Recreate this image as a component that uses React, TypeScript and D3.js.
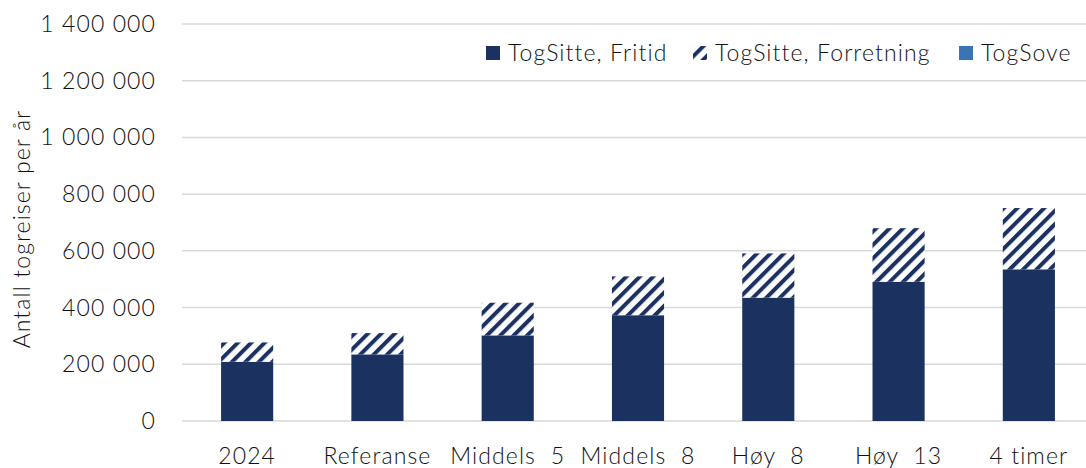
import React, { useEffect, useRef } from 'react'
import * as d3 from 'd3'

const categories = ['2024', 'Referanse', 'Middels  5', 'Middels  8', 'Høy  8', 'Høy  13', '4 timer']
const fritid = [209000, 235000, 302000, 373000, 435000, 491000, 535000]
const forretning = [68000, 75000, 115000, 137000, 156000, 189000, 216000]
const sove = [0, 0, 0, 0, 0, 0, 0]
const seriesNames = ['TogSitte, Fritid', 'TogSitte, Forretning', 'TogSove']
const yTicks = [0, 200000, 400000, 600000, 800000, 1000000, 1200000, 1400000]

const W = 1086
const H = 468
const NAVY = '#1b3160'
const BLUE = '#3a74b4'
const FONT = 'Lato, "Open Sans", sans-serif'
const FS = 23
const LS = 1.1

export default function App() {
  const ref = useRef<SVGSVGElement>(null)

  useEffect(() => {
    document.body.style.margin = '0'
    const svg = d3.select(ref.current)
    svg.selectAll('*').remove()

    const defs = svg.append('defs')
    const pat = defs.append('pattern')
      .attr('id', 'hatch')
      .attr('patternUnits', 'userSpaceOnUse')
      .attr('width', 9.5)
      .attr('height', 9.5)
      .attr('patternTransform', 'rotate(45)')
    pat.append('rect').attr('width', 9.5).attr('height', 9.5).attr('fill', '#fff')
    pat.append('rect').attr('width', 4).attr('height', 9.5).attr('fill', NAVY)

    const x = d3.scaleBand<string>()
      .domain(categories)
      .range([182, 1094])
      .paddingInner(0.6)
      .paddingOuter(0.3)
    const y = d3.scaleLinear().domain([0, 1400000]).range([421, 24])

    const txt = (sel: any) => sel
      .attr('font-family', FONT)
      .attr('font-size', FS)
      .attr('font-weight', 300)
      .attr('letter-spacing', LS)
      .attr('fill', '#111')

    // gridlines
    svg.append('g')
      .selectAll('line')
      .data(yTicks)
      .join('line')
      .attr('x1', 182)
      .attr('x2', W)
      .attr('y1', d => y(d))
      .attr('y2', d => y(d))
      .attr('stroke', '#d9d9d9')
      .attr('stroke-width', 1.5)

    const fmt = (v: number) => d3.format(',')(v).replace(/,/g, ' ')
    svg.append('g')
      .selectAll('text')
      .data(yTicks)
      .join('text')
      .attr('x', 156)
      .attr('y', d => y(d))
      .attr('dy', '0.35em')
      .attr('text-anchor', 'end')
      .call(txt)
      .text(d => fmt(d))

    svg.append('text')
      .attr('transform', 'translate(30,229) rotate(-90)')
      .attr('text-anchor', 'middle')
      .call(txt)
      .text('Antall togreiser per år')

    // stacked bars
    const rows = categories.map((c, i) => ({ cat: c, a: fritid[i], b: forretning[i], c: sove[i] }))
    const stack = d3.stack<any>().keys(['a', 'b', 'c'])(rows)
    const fills = [NAVY, 'url(#hatch)', BLUE]
    svg.append('g')
      .selectAll('g')
      .data(stack)
      .join('g')
      .attr('fill', (_, i) => fills[i])
      .selectAll('rect')
      .data(d => d)
      .join('rect')
      .attr('x', d => x(d.data.cat)!)
      .attr('width', x.bandwidth())
      .attr('y', d => y(d[1]))
      .attr('height', d => y(d[0]) - y(d[1]))

    svg.append('g')
      .selectAll('text')
      .data(categories)
      .join('text')
      .attr('x', d => x(d)! + x.bandwidth() / 2)
      .attr('y', 464)
      .attr('text-anchor', 'middle')
      .attr('style', 'white-space: pre')
      .call(txt)
      .text(d => d)

    // legend
    const legend = [
      { name: seriesNames[0], fill: NAVY, x: 486 },
      { name: seriesNames[1], fill: 'url(#hatch)', x: 693 },
      { name: seriesNames[2], fill: BLUE, x: 959 },
    ]
    const lg = svg.append('g').selectAll('g').data(legend).join('g')
      .attr('transform', d => `translate(${d.x},0)`)
    lg.append('rect')
      .attr('x', 0)
      .attr('y', 46)
      .attr('width', 14)
      .attr('height', 14)
      .attr('fill', d => d.fill)
    lg.append('text')
      .attr('x', 22)
      .attr('y', 53)
      .attr('dy', '0.35em')
      .call(txt)
      .text(d => d.name)
  }, [])

  return <svg ref={ref} width={W} height={H} style={{ display: 'block' }} />
}
